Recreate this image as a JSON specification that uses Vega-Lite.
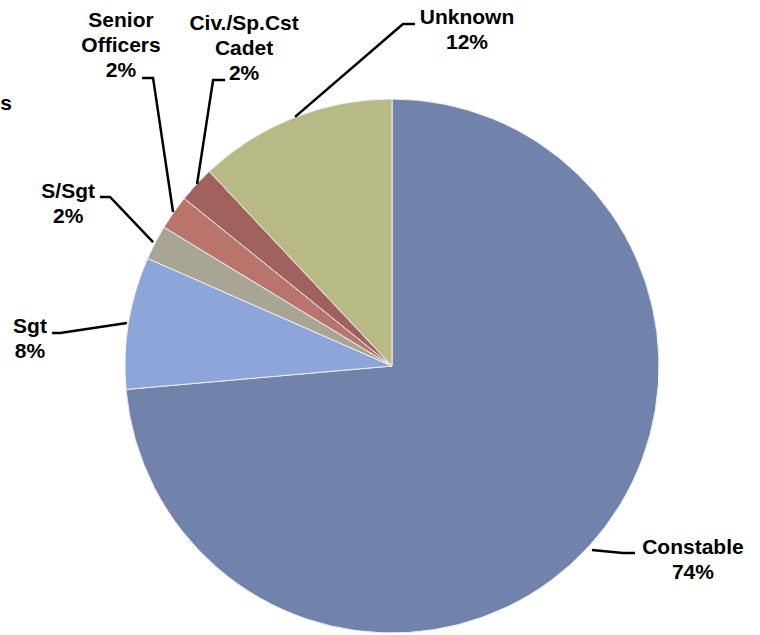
{
  "$schema": "https://vega.github.io/schema/vega-lite/v6.json",
  "width": 534,
  "height": 534,
  "autosize": {"type": "none"},
  "padding": {"left": 125, "top": 99, "right": 101, "bottom": 2},
  "background": "white",
  "config": {"view": {"stroke": null}},
  "datasets": {
    "slices": [
      {"rank": "Constable", "pct": 73.6, "order": 1},
      {"rank": "Sgt", "pct": 8.0, "order": 2},
      {"rank": "S/Sgt", "pct": 2.1, "order": 3},
      {"rank": "Senior Officers", "pct": 2.1, "order": 4},
      {"rank": "Civ./Sp.Cst Cadet", "pct": 2.2, "order": 5},
      {"rank": "Unknown", "pct": 12.0, "order": 6}
    ],
    "leaders": [
      {"label": "Constable", "seq": 1, "x": 0.749, "y": -0.689},
      {"label": "Constable", "seq": 2, "x": 0.865, "y": -0.700},
      {"label": "Constable", "seq": 3, "x": 0.910, "y": -0.700},
      {"label": "Sgt", "seq": 1, "x": -1.273, "y": 0.124},
      {"label": "Sgt", "seq": 2, "x": -1.243, "y": 0.124},
      {"label": "Sgt", "seq": 3, "x": -0.993, "y": 0.161},
      {"label": "S/Sgt", "seq": 1, "x": -1.094, "y": 0.633},
      {"label": "S/Sgt", "seq": 2, "x": -1.056, "y": 0.633},
      {"label": "S/Sgt", "seq": 3, "x": -0.895, "y": 0.464},
      {"label": "Senior Officers", "seq": 1, "x": -0.936, "y": 1.079},
      {"label": "Senior Officers", "seq": 2, "x": -0.895, "y": 1.079},
      {"label": "Senior Officers", "seq": 3, "x": -0.820, "y": 0.577},
      {"label": "Civ./Sp.Cst Cadet", "seq": 1, "x": -0.625, "y": 1.071},
      {"label": "Civ./Sp.Cst Cadet", "seq": 2, "x": -0.670, "y": 1.071},
      {"label": "Civ./Sp.Cst Cadet", "seq": 3, "x": -0.730, "y": 0.682},
      {"label": "Unknown", "seq": 1, "x": 0.086, "y": 1.281},
      {"label": "Unknown", "seq": 2, "x": 0.041, "y": 1.281},
      {"label": "Unknown", "seq": 3, "x": -0.363, "y": 0.933}
    ],
    "labels": [
      {"text": "Constable|74%", "x": 1.127, "y": -0.682},
      {"text": "Sgt|8%", "x": -1.356, "y": 0.146},
      {"text": "S/Sgt|2%", "x": -1.213, "y": 0.652},
      {"text": "Senior|Officers|2%", "x": -1.015, "y": 1.292},
      {"text": "Civ./Sp.Cst|Cadet|2%", "x": -0.554, "y": 1.281},
      {"text": "Unknown|12%", "x": 0.281, "y": 1.303},
      {"text": "s", "x": -1.445, "y": 0.981}
    ]
  },
  "layer": [
    {
      "data": {"name": "slices"},
      "mark": {"type": "arc", "stroke": "#eeeeee", "strokeWidth": 1},
      "encoding": {
        "theta": {"field": "pct", "type": "quantitative", "stack": true},
        "color": {
          "field": "rank",
          "type": "nominal",
          "scale": {
            "domain": ["Constable", "Sgt", "S/Sgt", "Senior Officers", "Civ./Sp.Cst Cadet", "Unknown"],
            "range": ["#7183aa", "#8ea5da", "#a8a594", "#b9746c", "#a1625e", "#b7ba84"]
          },
          "legend": null
        },
        "order": {"field": "order", "type": "quantitative"}
      }
    },
    {
      "data": {"name": "leaders"},
      "mark": {"type": "line", "color": "black", "strokeWidth": 2.5, "clip": false},
      "encoding": {
        "x": {"field": "x", "type": "quantitative", "scale": {"domain": [-1, 1], "nice": false, "zero": false}, "axis": null},
        "y": {"field": "y", "type": "quantitative", "scale": {"domain": [-1, 1], "nice": false, "zero": false}, "axis": null},
        "detail": {"field": "label", "type": "nominal"},
        "order": {"field": "seq", "type": "quantitative"}
      }
    },
    {
      "data": {"name": "labels"},
      "mark": {"type": "text", "font": "Liberation Sans", "fontWeight": "bold", "fontSize": 21, "lineBreak": "|", "lineHeight": 25, "align": "center", "baseline": "middle", "color": "black", "clip": false},
      "encoding": {
        "x": {"field": "x", "type": "quantitative", "scale": {"domain": [-1, 1], "nice": false, "zero": false}, "axis": null},
        "y": {"field": "y", "type": "quantitative", "scale": {"domain": [-1, 1], "nice": false, "zero": false}, "axis": null},
        "text": {"field": "text", "type": "nominal"}
      }
    }
  ]
}
